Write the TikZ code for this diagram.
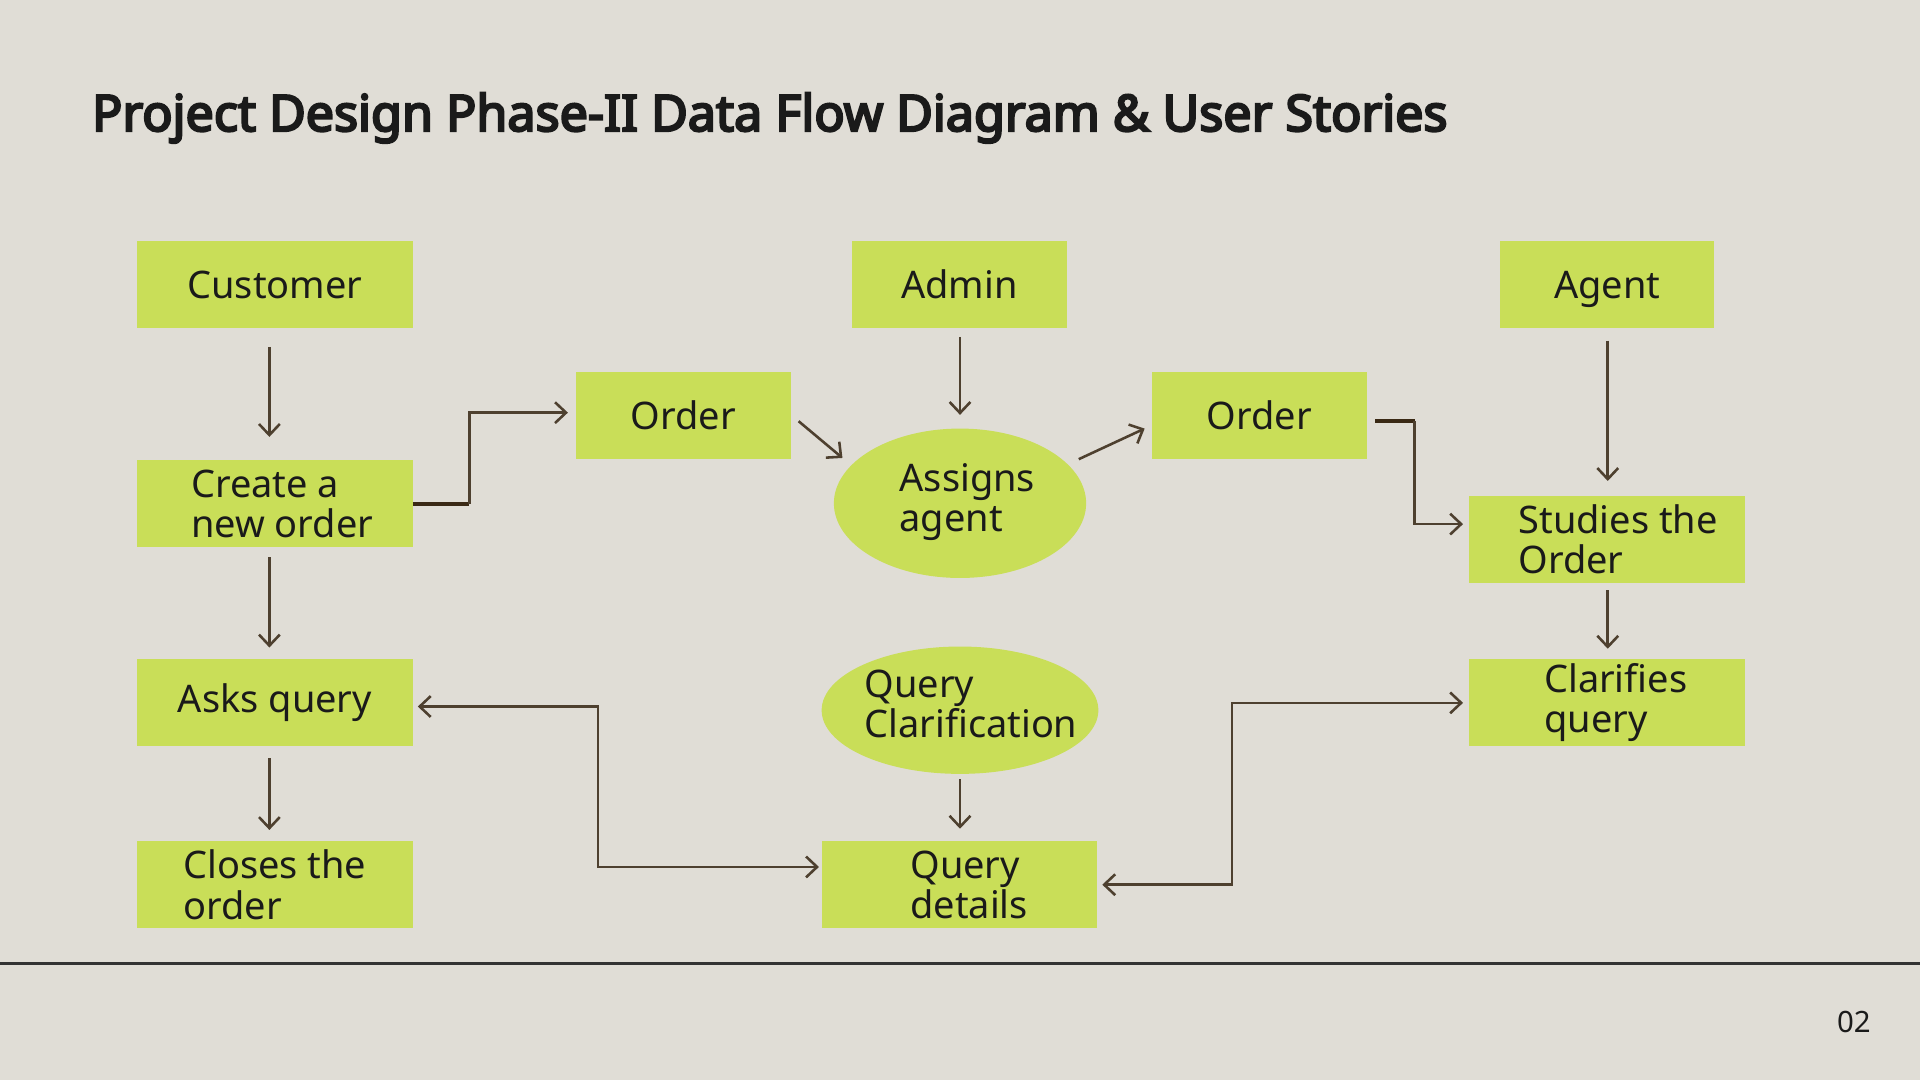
\documentclass[tikz,border=0pt]{standalone}
\usepackage{fontspec}
\setmainfont{Noto Sans}
\newfontfamily\titlefont{Noto Sans}[AutoFakeBold=4.5]
\usetikzlibrary{arrows.meta,shapes.geometric,calc}
\definecolor{bg}{HTML}{E0DDD6}
\definecolor{lime}{HTML}{C9DE58}
\definecolor{wire}{HTML}{4E402F}
\definecolor{wiredark}{HTML}{3A2915}
\definecolor{ink}{HTML}{1A1A1A}
\definecolor{rulegray}{HTML}{333333}
\newcommand{\indnt}[1]{\hspace*{#1pt}}
\begin{document}
\begin{tikzpicture}[x=1pt,y=-1pt,
  txtfont/.style={font=\fontsize{31}{33}\selectfont},
  box/.style={rectangle, fill=lime, inner sep=0pt, minimum width=225pt, minimum height=71pt, txtfont, text=ink, align=left},
  sbox/.style={box, minimum width=176pt},
  blob/.style={ellipse, fill=lime, inner sep=0pt},
  lbl/.style={txtfont, text=ink, align=left, inner sep=0pt},
  tipb/.tip={Straight Barb[length=9pt,width=17pt]},
  flow/.style={draw=wire, line width=2.1pt, -tipb},
  twoway/.style={draw=wire, line width=2.1pt, tipb-tipb},
  stub/.style={draw=wiredark, line width=3.5pt}
]
\fill[bg] (0,0) rectangle (1568,882);
\useasboundingbox (0,0) rectangle (1568,882);

\node[anchor=base west, text=ink, inner sep=0pt, font=\titlefont\bfseries\fontsize{41}{44}\selectfont] (title) at (75,107) {Project Design Phase-II Data Flow Diagram \& User Stories};

% left column
\node[box] (cust) at (224.5,232.5) {Customer};
\node[box] (create) at (224.5,411.5) {\indnt{12}Create a\\\indnt{12}new order};
\node[box] (asks) at (224.5,573.5) {Asks query};
\node[box] (closes) at (224.5,722.5) {Closes the\\order};

% middle
\node[sbox] (order1) at (558,339.5) {Order};
\node[sbox, minimum width=175pt] (admin) at (783.5,232.5) {Admin};
\node[blob, minimum width=206pt, minimum height=122pt] (assign) at (784,411) {};
\node[lbl] (assigntxt) at ($(assign.center)+(6,-1)$) {Assigns\\agent};
\node[blob, minimum width=226pt, minimum height=104pt] (qclar) at (784,580) {};
\node[lbl] (qclartxt) at ($(qclar.center)+(9,-5)$) {Query\\Clarification};
\node[box] (qdet) at (783.5,722.5) {\indnt{16}Query\\\indnt{16}details};

% right
\node[sbox, minimum width=175pt] (order2) at (1028.5,339.5) {Order};
\node[sbox, minimum width=175pt, text depth=0pt] (agent) at (1312.5,232.5) {Agent};
\node[box] (studies) at (1312.5,440.5) {\indnt{18}Studies the\\\indnt{18}Order};
\node[box] (clarif) at (1312.5,573.5) {\indnt{14}Clarifies\\\indnt{14}query};

% connectors
\draw[flow] ($(cust.south)+(-4.5,15)$) -- ($(create.north)+(-4.5,-19)$);
\draw[flow] ($(create.south)+(-4.5,8)$) -- ($(asks.north)+(-4.5,-9)$);
\draw[flow] ($(asks.south)+(-4.5,10)$) -- ($(closes.north)+(-4.5,-9)$);

\coordinate (k1) at ($(create.east)+(46,0)$);
\draw[stub] (create.east) -- (k1);
\draw[flow] (k1) |- ($(order1.west)+(-6,-2.5)$);

\draw[flow] ($(order1.east)+(6,4.5)$) -- ($(assign.center)+(-96,-37)$);
\draw[flow] ($(admin.south)+(0.5,7)$) -- ($(assign.north)+(0,-11)$);
\draw[flow] ($(assign.center)+(97,-36)$) -- ($(order2.west)+(-6,10.5)$);

\coordinate (k2) at ($(order2.east)+(39,4.5)$);
\draw[stub] ($(order2.east)+(7,4.5)$) -- (k2);
\draw[flow] (k2) |- ($(studies.west)+(-5,-12.5)$);

\draw[flow] ($(agent.south)+(0.5,10)$) -- ($(studies.north)+(0.5,-12)$);
\draw[flow] ($(studies.south)+(0.5,6)$) -- ($(clarif.north)+(0.5,-8)$);
\draw[flow] ($(qclar.south)+(0,4)$) -- ($(qdet.north)+(0.5,-10)$);

\draw[twoway] ($(asks.east)+(4,3.5)$) -- ++(147,0) |- ($(qdet.west)+(-2,-14.5)$);
\draw[twoway] ($(qdet.east)+(4,0)$) -- ++(106,0) |- ($(clarif.west)+(-5,0.5)$);

% footer
\draw[rulegray, line width=2.7pt] (0,787) -- (1568,787);
\node[text=ink, inner sep=0pt, font=\fontsize{24}{24}\selectfont] (pg) at (1514,835) {02};
\end{tikzpicture}
\end{document}
